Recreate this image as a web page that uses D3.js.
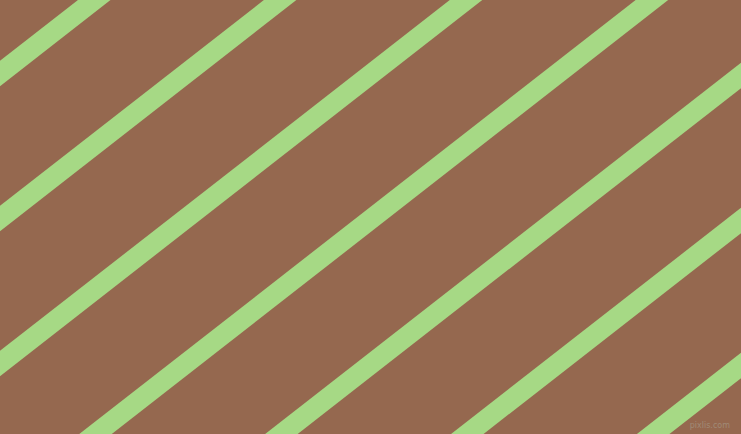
<!DOCTYPE html>
<html>
<head>
    <title>Diagonal stripes</title>
</head>
<body>
<style type="text/css">
    body {
        margin: 0;
        background: #fff;
    }

    #renderer {
        display: block;
        width: 741px;
        height: 434px;
    }
</style>
<script type="text/javascript" src="https://cdnjs.cloudflare.com/ajax/libs/d3/7.8.5/d3.min.js"></script>
<svg id='renderer'></svg>

<script type="text/javascript">
    // stripe centre lines: y where each stripe meets the left edge (x = 0)
    var stripeLeftY = [73.5, 218.5, 363.5, 508.5, 653.5, 798.5, 943.5];
    // y drop of a stripe across the whole width (x = 0 -> x = 741)
    var stripeDrop = 578;
    var watermarkText = ['pixlis.com'];

    var totalWidth = 741;
    var totalHeight = 434;

    var root = d3.select('#renderer')
        .attr('width', totalWidth)
        .attr('height', totalHeight);

    var x = d3.scaleLinear().domain([0, 1]).range([0, totalWidth]);
    var y = d3.scaleLinear().domain([0, totalHeight]).range([0, totalHeight]);

    // background
    root.append('rect')
        .attr('x', 0)
        .attr('y', 0)
        .attr('width', totalWidth)
        .attr('height', totalHeight)
        .attr('fill', '#95684f');

    // stripes, slightly extended past both edges so the ends are clipped
    root.selectAll('line.stripe')
        .data(stripeLeftY)
        .enter()
        .append('line')
        .attr('class', 'stripe')
        .attr('x1', x(-0.05))
        .attr('y1', function (d) { return y(d + stripeDrop * 0.05); })
        .attr('x2', x(1.05))
        .attr('y2', function (d) { return y(d - stripeDrop * 1.05); })
        .attr('stroke', '#a6d985')
        .attr('stroke-width', 20);

    // watermark
    root.selectAll('text.mark')
        .data(watermarkText)
        .enter()
        .append('text')
        .attr('class', 'mark')
        .text(function (d) { return d; })
        .attr('x', totalWidth - 11)
        .attr('y', totalHeight - 6)
        .attr('font-family', 'DejaVu Sans, sans-serif')
        .attr('font-size', 8)
        .attr('text-anchor', 'end')
        .attr('fill', '#a08a76');
</script>
</body>
</html>
